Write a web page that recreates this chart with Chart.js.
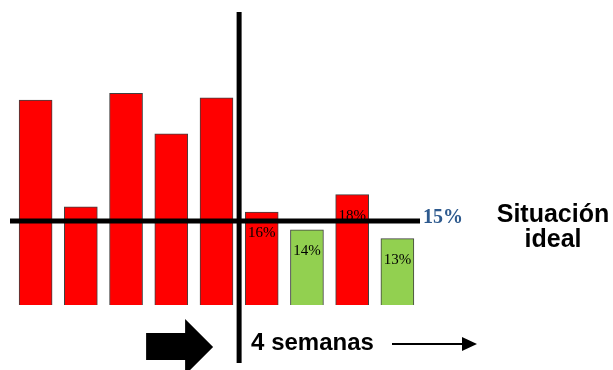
<!DOCTYPE html>
<html>
<head>
<meta charset="utf-8">
<script src="https://cdn.jsdelivr.net/npm/chart.js@4"></script>
<style>
  html, body { margin: 0; padding: 0; background: #ffffff; }
  #wrap { width: 613px; height: 370px; position: relative; }
</style>
</head>
<body>
<div id="wrap"><canvas id="grafico" width="613" height="370"></canvas></div>
<script>
// Semanas antes y después del cambio (porcentaje semanal)
const semanasAntes = ['S-5', 'S-4', 'S-3', 'S-2', 'S-1'];
const semanasDespues = ['S1', 'S2', 'S3', 'S4'];
const valoresAntes = [28.75, 16.6, 29.5, 24.9, 29.0];
const valoresDespues = [16, 14, 18, 13];
const metaIdeal = 15;
const textoMeta = '15%';
const textoIdeal = ['Situación', 'ideal'];
const textoPeriodo = '4 semanas';

const etiquetas = semanasAntes.concat(semanasDespues);
const valores = valoresAntes.concat(valoresDespues);
const nAntes = semanasAntes.length;

const ROJO = '#ff0000';
const VERDE = '#92d050';

// Líneas de referencia, flechas y textos
const anotaciones = {
  id: 'anotaciones',
  afterDatasetsDraw(chart) {
    const c = chart.ctx;
    const area = chart.chartArea;
    const x = chart.scales.x;
    const y = chart.scales.y;
    c.save();

    // línea de la meta (15%)
    const yMeta = y.getPixelForValue(metaIdeal);
    c.strokeStyle = '#000000';
    c.lineWidth = 5;
    c.beginPath();
    c.moveTo(area.left - 3, yMeta);
    c.lineTo(area.right, yMeta);
    c.stroke();

    // separador antes / después
    const xSep = x.getPixelForValue(nAntes - 0.5);
    c.lineWidth = 5;
    c.beginPath();
    c.moveTo(xSep, area.top);
    c.lineTo(xSep, 363);
    c.stroke();

    // etiquetas de valor en las barras posteriores
    const meta = chart.getDatasetMeta(0);
    c.fillStyle = '#000000';
    c.font = '15px "Liberation Serif", "Times New Roman", serif';
    c.textAlign = 'center';
    c.textBaseline = 'alphabetic';
    for (let i = nAntes; i < valores.length; i++) {
      const bar = meta.data[i];
      c.fillText(valores[i] + '%', bar.x, bar.y + 25);
    }

    // valor de la meta
    c.fillStyle = '#2e5a8e';
    c.font = 'bold 20px "Liberation Serif", "Times New Roman", serif';
    c.textAlign = 'left';
    c.fillText(textoMeta, area.right + 3, yMeta + 2);

    // "Situación ideal"
    c.fillStyle = '#000000';
    c.font = 'bold 25px "Liberation Sans", Arial, sans-serif';
    c.textAlign = 'center';
    c.fillText(textoIdeal[0], 553, yMeta + 1);
    c.fillText(textoIdeal[1], 553, yMeta + 26);

    // flecha gruesa hacia el separador
    const punta = xSep - 26;
    c.beginPath();
    c.moveTo(punta - 67, 333);
    c.lineTo(punta - 28, 333);
    c.lineTo(punta - 28, 319);
    c.lineTo(punta, 347);
    c.lineTo(punta - 28, 375);
    c.lineTo(punta - 28, 360);
    c.lineTo(punta - 67, 360);
    c.closePath();
    c.fill();

    // "4 semanas" con flecha fina
    c.font = 'bold 24px "Liberation Sans", Arial, sans-serif';
    c.textAlign = 'left';
    c.fillText(textoPeriodo, xSep + 12, 350);
    c.lineWidth = 2;
    c.beginPath();
    c.moveTo(392, 344);
    c.lineTo(463, 344);
    c.stroke();
    c.beginPath();
    c.moveTo(462, 337);
    c.lineTo(477, 344);
    c.lineTo(462, 351);
    c.closePath();
    c.fill();

    c.restore();
  }
};

new Chart(document.getElementById('grafico'), {
  type: 'bar',
  data: {
    labels: etiquetas,
    datasets: [{
      data: valores,
      backgroundColor: (ctx) => (valores[ctx.dataIndex] > metaIdeal ? ROJO : VERDE),
      borderColor: '#404040',
      borderWidth: 1,
      barThickness: 33
    }]
  },
  options: {
    responsive: false,
    animation: false,
    devicePixelRatio: 1,
    layout: { padding: { left: 13, right: 193, top: 12, bottom: 65 } },
    plugins: { legend: { display: false }, tooltip: { enabled: false } },
    scales: {
      x: { type: 'category', display: false, offset: true, grid: { display: false } },
      y: { display: false, min: 5.45, max: 38.75, grid: { display: false } }
    }
  },
  plugins: [anotaciones]
});
</script>
</body>
</html>
